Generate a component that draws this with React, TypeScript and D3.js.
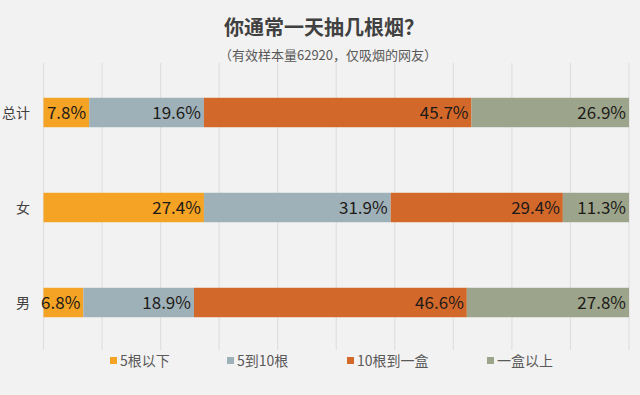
import React, { useEffect, useRef } from "react";
import * as d3 from "d3";

const categories = ["总计", "女", "男"];
const seriesNames = ["5根以下", "5到10根", "10根到一盒", "一盒以上"];
const seriesColors = ["#F4A324", "#9EB1B8", "#D2692B", "#9CA58B"];
// values per series, same order as categories
const lessThan5 = [7.8, 27.4, 6.8];
const from5to10 = [19.6, 31.9, 18.9];
const from10toPack = [45.7, 29.4, 46.6];
const morePack = [26.9, 11.3, 27.8];
const ticks = [0, 10, 20, 30, 40, 50, 60, 70, 80, 90, 100];

const W = 640;
const H = 395;
const FONT = "'Noto Sans CJK SC', 'Liberation Sans', sans-serif";

const App = () => {
  const svgRef = useRef<SVGSVGElement | null>(null);

  useEffect(() => {
    document.body.style.margin = "0";
    if (!svgRef.current) return;
    const svg = d3.select(svgRef.current);
    svg.selectAll("*").remove();

    svg.append("rect").attr("width", W).attr("height", H).attr("fill", "#F3F2F2");

    const x = d3.scaleLinear().domain([0, 100]).range([43.5, 629]);
    const y = d3
      .scaleBand()
      .domain(categories)
      .range([65, 350])
      .paddingInner(0.69)
      .paddingOuter(0.345);

    // gridlines
    svg
      .append("g")
      .selectAll("line")
      .data(ticks)
      .enter()
      .append("line")
      .attr("x1", (d) => x(d))
      .attr("x2", (d) => x(d))
      .attr("y1", 63)
      .attr("y2", 350)
      .attr("stroke", "#E0DFDF")
      .attr("stroke-width", 1.2);

    const series = [lessThan5, from5to10, from10toPack, morePack];
    const rows = categories.map((c, i) => {
      const r: any = { cat: c };
      seriesNames.forEach((s, j) => (r[s] = series[j][i]));
      return r;
    });
    const stacked = d3.stack().keys(seriesNames)(rows);

    const g = svg.append("g");
    stacked.forEach((layer, j) => {
      const lg = g.append("g");
      lg.selectAll("rect")
        .data(layer)
        .enter()
        .append("rect")
        .attr("x", (d) => x(d[0]))
        .attr("y", (d) => y(d.data.cat as string)!)
        .attr("width", (d) => Math.min(x(d[1]), x(100)) - x(d[0]))
        .attr("height", y.bandwidth())
        .attr("fill", seriesColors[j]);
      lg.selectAll("text")
        .data(layer)
        .enter()
        .append("text")
        .attr("x", (d) => Math.min(x(d[1]), x(100)) - 3)
        .attr("y", (d) => y(d.data.cat as string)! + y.bandwidth() / 2)
        .attr("dy", "0.36em")
        .attr("text-anchor", "end")
        .attr("font-family", FONT)
        .attr("font-size", 17)
        .attr("fill", "#1E1A18")
        .text((d) => `${(d[1] - d[0]).toFixed(1)}%`);
    });

    // category labels
    svg
      .append("g")
      .selectAll("text")
      .data(categories)
      .enter()
      .append("text")
      .attr("x", 30)
      .attr("y", (d) => y(d)! + y.bandwidth() / 2)
      .attr("dy", "0.36em")
      .attr("text-anchor", "end")
      .attr("font-family", FONT)
      .attr("font-size", 14)
      .attr("fill", "#404040")
      .text((d) => d);

    // title
    svg
      .append("text")
      .attr("x", 324)
      .attr("y", 35)
      .attr("text-anchor", "middle")
      .attr("font-family", FONT)
      .attr("font-size", 20)
      .attr("font-weight", "bold")
      .attr("fill", "#404040")
      .text("你通常一天抽几根烟？");

    svg
      .append("text")
      .attr("x", 328)
      .attr("y", 60)
      .attr("text-anchor", "middle")
      .attr("font-family", FONT)
      .attr("font-size", 13)
      .attr("fill", "#595959")
      .text("（有效样本量62920，仅吸烟的网友）");

    // legend
    const legendX = [110, 227, 347, 487];
    const lgd = svg
      .append("g")
      .selectAll("g")
      .data(seriesNames)
      .enter()
      .append("g")
      .attr("transform", (d, i) => `translate(${legendX[i]},357)`);
    lgd
      .append("rect")
      .attr("width", 7)
      .attr("height", 7)
      .attr("fill", (d, i) => seriesColors[i]);
    lgd
      .append("text")
      .attr("x", 10)
      .attr("y", 6)
      .attr("dy", "0.2em")
      .attr("font-family", FONT)
      .attr("font-size", 14)
      .attr("fill", "#595959")
      .text((d) => d);
  }, []);

  return (
    <div style={{ position: "absolute", left: 0, top: 0 }}>
      <svg ref={svgRef} width={W} height={H}></svg>
    </div>
  );
};

export default App;
